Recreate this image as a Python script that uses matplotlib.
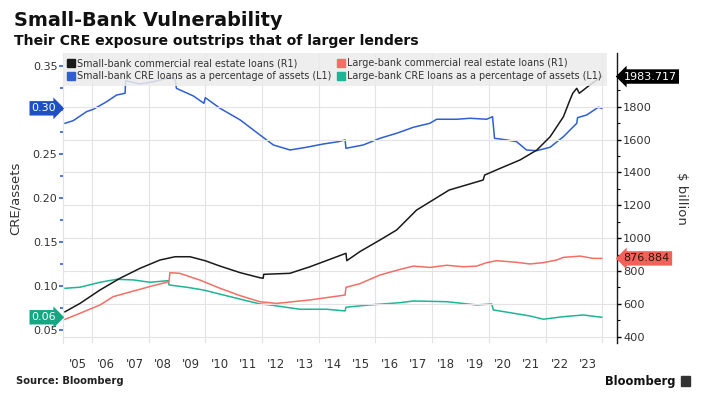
import numpy as np
import matplotlib
matplotlib.use("Agg")
import matplotlib.pyplot as plt
from matplotlib.lines import Line2D
from matplotlib.patches import Rectangle

# small-bank CRE / assets (L1)
small_pct_x = [2005.05, 2005.34, 2005.81, 2006.05, 2006.52, 2006.87, 2007.17, 2007.19, 2007.69, 2008.16,
               2008.64, 2008.93, 2008.98, 2009.58, 2009.95, 2010.0, 2010.52, 2011.23, 2011.93, 2012.4,
               2012.99, 2013.57, 2014.16, 2014.69, 2014.93, 2014.96, 2015.57, 2016.16, 2016.75, 2017.34,
               2017.92, 2018.16, 2018.87, 2019.34, 2019.92, 2020.13, 2020.2, 2020.63, 2020.98, 2021.33,
               2021.69, 2022.16, 2022.63, 2023.1, 2023.13, 2023.45, 2023.86, 2023.98]
small_pct = [0.2846, 0.2876, 0.2978, 0.3005, 0.3091, 0.3167, 0.3187, 0.3330, 0.3292, 0.3318,
             0.3357, 0.3357, 0.3243, 0.3156, 0.3073, 0.3137, 0.3016, 0.2884, 0.2713, 0.2600,
             0.2543, 0.2574, 0.2611, 0.2637, 0.2657, 0.2562, 0.2600, 0.2676, 0.2733, 0.2801,
             0.2846, 0.2892, 0.2892, 0.2903, 0.2892, 0.2921, 0.2676, 0.2657, 0.2637, 0.2543,
             0.2535, 0.2574, 0.2694, 0.2846, 0.2910, 0.2940, 0.3028, 0.3016]

# large-bank CRE / assets (L1)
large_pct_x = [2005.05, 2005.58, 2006.28, 2006.87, 2007.46, 2008.05, 2008.69, 2008.72, 2009.34, 2009.93,
               2010.64, 2011.34, 2011.93, 2012.28, 2013.34, 2014.28, 2014.93, 2014.96, 2015.8, 2016.87,
               2017.34, 2018.51, 2019.57, 2020.1, 2020.16, 2020.75, 2021.45, 2021.92, 2022.63, 2023.33,
               2023.98]
large_pct = [0.0973, 0.0985, 0.1041, 0.1075, 0.1068, 0.1041, 0.1060, 0.1011, 0.0985, 0.0954,
             0.0897, 0.0841, 0.0795, 0.0784, 0.0735, 0.0735, 0.0716, 0.0758, 0.0784, 0.0810,
             0.0829, 0.0821, 0.0784, 0.0795, 0.0727, 0.0696, 0.0659, 0.0622, 0.0651, 0.0670,
             0.0644]

# small-bank CRE loans, $bn (R1)
small_loans_x = [2005.05, 2005.58, 2006.28, 2006.99, 2007.69, 2008.4, 2008.93, 2009.46, 2009.99, 2010.52,
                 2011.23, 2011.93, 2012.04, 2012.06, 2012.98, 2013.69, 2014.39, 2014.96, 2014.99, 2015.45,
                 2016.16, 2016.75, 2017.45, 2018.6, 2019.8, 2019.85, 2020.4, 2021.1, 2021.69, 2022.16,
                 2022.63, 2022.86, 2022.96, 2023.1, 2023.19, 2023.56, 2023.98]
small_loans = [552, 603, 684, 756, 816, 867, 887, 887, 863, 830,
               790, 759, 756, 780, 786, 826, 871, 908, 863, 918,
               989, 1050, 1171, 1293, 1354, 1384, 1425, 1476, 1536, 1617,
               1739, 1841, 1882, 1912, 1882, 1932, 1983.717]

# large-bank CRE loans, $bn (R1)
large_loans_x = [2005.05, 2005.58, 2006.28, 2006.75, 2007.46, 2008.16, 2008.72, 2008.75, 2009.1, 2009.81,
                 2010.52, 2011.23, 2011.93, 2012.52, 2013.69, 2014.93, 2014.96, 2015.45, 2016.16, 2016.87,
                 2017.34, 2017.92, 2018.51, 2019.1, 2019.57, 2019.92, 2020.28, 2020.98, 2021.45, 2021.92,
                 2022.39, 2022.63, 2023.22, 2023.68, 2023.98]
large_loans = [506, 543, 593, 644, 678, 711, 735, 790, 786, 745,
               695, 650, 613, 603, 624, 654, 701, 723, 776, 810,
               830, 822, 835, 826, 830, 851, 863, 853, 843, 851,
               867, 883, 891, 877, 876.884]

year_labels = ["'05", "'06", "'07", "'08", "'09", "'10", "'11", "'12", "'13", "'14",
               "'15", "'16", "'17", "'18", "'19", "'20", "'21", "'22", "'23"]

blue = "#2f5fd0"
teal = "#1eb594"
red = "#f36f66"
black = "#1a1a1a"

fig = plt.figure(figsize=(7.06, 3.97), dpi=100)
ax = fig.add_axes([63 / 706, 1 - 343 / 397, 554 / 706, 290 / 397])
ax2 = ax.twinx()

ax.plot(small_pct_x, small_pct, color=blue, lw=1.1)
ax.plot(large_pct_x, large_pct, color=teal, lw=1.1)
ax2.plot(small_loans_x, small_loans, color=black, lw=1.1)
ax2.plot(large_loans_x, large_loans, color=red, lw=1.1)

ax.set_xlim(2004.98, 2024.52)
ax.set_ylim(0.0352, 0.3644)
ax2.set_ylim(362, 2127)

# x axis: grid on even years, labels mid-year
ax.set_xticks(np.arange(2006, 2025, 2))
ax.set_xticklabels([])
ax.set_xticks(np.arange(2005, 2024) + 0.5, minor=True)
ax.set_xticklabels(year_labels, minor=True)
ax.tick_params(axis="x", which="both", length=0)
ax.tick_params(axis="x", which="minor", pad=11, labelsize=8.4, colors="#333333")
ax.grid(axis="x", which="major", color="#e3e3e3", lw=0.8)

# 0.30 label is covered by the value tag
ax.set_yticks([0.05, 0.10, 0.15, 0.20, 0.25, 0.30, 0.35])
ax.set_yticklabels(["0.05", "0.10", "0.15", "0.20", "0.25", "", "0.35"])
ax.set_yticks(np.arange(0.075, 0.35, 0.05), minor=True)
ax.tick_params(axis="y", which="both", color=blue, width=1.2, labelsize=8,
               labelcolor="#333333", pad=1)
ax.tick_params(axis="y", which="major", length=3)
ax.tick_params(axis="y", which="minor", length=2)
ax.set_ylabel("CRE/assets", fontsize=9.5, color="#333333")
ax.yaxis.set_label_coords(-0.074, 0.5)

ax2.set_yticks(np.arange(400, 1801, 200))
ax2.set_yticks(np.arange(500, 2001, 200), minor=True)
ax2.tick_params(axis="y", which="major", length=3, width=1, labelsize=8.2, pad=1.5,
                labelcolor="#333333")
ax2.tick_params(axis="y", which="minor", length=2, width=0.8)
ax2.grid(axis="y", which="major", color="#e3e3e3", lw=0.8)
ax2.set_axisbelow(True)
ax2.set_ylabel("$ billion", fontsize=9.5, color="#333333", rotation=270)
ax2.yaxis.set_label_coords(1.128, 0.5)

for a in (ax, ax2):
    a.spines["top"].set_visible(False)
    a.spines["bottom"].set_visible(False)
ax.spines["left"].set_color("#e3e3e3")
ax.spines["right"].set_visible(False)
ax2.spines["left"].set_visible(False)
ax2.spines["right"].set_color(black)
ax2.spines["right"].set_linewidth(1.0)

# legend
handles = [
    Line2D([], [], ls="", marker="s", ms=5.5, color=black),
    Line2D([], [], ls="", marker="s", ms=5.5, color=blue),
    Line2D([], [], ls="", marker="s", ms=5.5, color=red),
    Line2D([], [], ls="", marker="s", ms=5.5, color=teal),
]
labels = [
    "Small-bank commercial real estate loans (R1)",
    "Small-bank CRE loans as a percentage of assets (L1)",
    "Large-bank commercial real estate loans (R1)",
    "Large-bank CRE loans as a percentage of assets (L1)",
]
leg = ax2.legend(handles, labels, ncol=2, loc="upper left", bbox_to_anchor=(0, 1, 0.982, 0),
                 mode="expand", fontsize=6.9, frameon=True, fancybox=False,
                 handlelength=0.6, handletextpad=0.3, borderpad=0.55, labelspacing=0.3,
                 borderaxespad=0, columnspacing=1.0)
leg.get_frame().set_facecolor("#ebebeb")
leg.get_frame().set_edgecolor("none")
leg.get_frame().set_alpha(0.85)
for t in leg.get_texts():
    t.set_color("#333333")

# value tags
tr_left = ax.get_yaxis_transform()
ax.text(-0.012, small_pct[-1], "0.30", transform=tr_left, ha="right", va="center",
        fontsize=8, color="white", clip_on=False,
        bbox=dict(boxstyle="rarrow,pad=0.2", fc="#1f4fc4", ec="none"))
ax.text(-0.012, large_pct[-1], "0.06", transform=tr_left, ha="right", va="center",
        fontsize=8, color="white", clip_on=False,
        bbox=dict(boxstyle="rarrow,pad=0.2", fc="#13a882", ec="none"))
tr_right = ax2.get_yaxis_transform()
ax2.text(1.012, small_loans[-1], "%.3f" % small_loans[-1], transform=tr_right, ha="left",
         va="center", fontsize=8, color="white", clip_on=False, zorder=10,
         bbox=dict(boxstyle="larrow,pad=0.2", fc="black", ec="none"))
ax2.text(1.012, large_loans[-1], "%.3f" % large_loans[-1], transform=tr_right, ha="left",
         va="center", fontsize=8, color="#3a1010", clip_on=False, zorder=10,
         bbox=dict(boxstyle="larrow,pad=0.2", fc="#f0625a", ec="none"))

# titles and footer
fig.text(14 / 706, 1 - 20 / 397, "Small-Bank Vulnerability", fontsize=13.9, fontweight="bold",
         color="#111111", va="center")
fig.text(14 / 706, 1 - 41 / 397, "Their CRE exposure outstrips that of larger lenders",
         fontsize=10.1, fontweight="bold", color="#111111", va="center")
fig.text(16 / 706, 1 - 381 / 397, "Source: Bloomberg", fontsize=7.2, fontweight="bold",
         color="#222222", va="center")
fig.text(675 / 706, 1 - 381 / 397, "Bloomberg", fontsize=8.3, fontweight="bold",
         color="#111111", va="center", ha="right")
fig.add_artist(Rectangle((681 / 706, 1 - 386 / 397), 9 / 706, 10 / 397,
                         transform=fig.transFigure, color="#333333"))

fig.savefig("out.png", dpi=100)
